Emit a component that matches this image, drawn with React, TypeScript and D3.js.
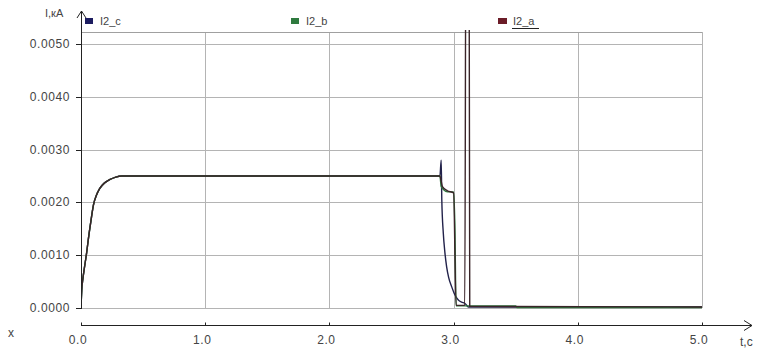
import { useEffect, useRef } from 'react'
import * as d3 from 'd3'

// readings (t in s, current in kA)
const xTicks = [0, 1, 2, 3, 4, 5]
const yTicks = [0, 0.001, 0.002, 0.003, 0.004, 0.005]

const tC = [0, 0.006, 0.015, 0.03, 0.045, 0.06, 0.08, 0.1, 0.125, 0.15, 0.19, 0.23, 0.28, 0.33, 0.5, 2.89, 2.9, 2.905, 2.917, 2.93, 2.944, 2.96, 2.985, 3.01, 3.038, 3.065, 3.09, 3.12, 5.0]
const iC = [0, 0.00034, 0.00055, 0.0008, 0.00104, 0.00132, 0.00165, 0.00195, 0.00214, 0.00226, 0.00237, 0.00243, 0.00248, 0.0025, 0.0025, 0.0025, 0.0028, 0.00205, 0.00142, 0.00105, 0.00078, 0.00058, 0.0004, 0.00025, 0.00015, 0.00011, 0.00009, 0.00002, 0.00002]

const tB = [0, 0.006, 0.015, 0.03, 0.045, 0.06, 0.08, 0.1, 0.125, 0.15, 0.19, 0.23, 0.28, 0.33, 0.5, 2.89, 2.9, 2.92, 2.95, 3.0, 3.01, 3.02, 3.03, 3.5, 3.51, 5.0]
const iB = [0, 0.00034, 0.00055, 0.0008, 0.00104, 0.00132, 0.00165, 0.00195, 0.00214, 0.00226, 0.00237, 0.00243, 0.00248, 0.0025, 0.0025, 0.0025, 0.0023, 0.00224, 0.0022, 0.0022, 0.0016, 0.00004, 0.00004, 0.00004, 0.00001, 0.00001]

const tA = [0, 0.006, 0.015, 0.03, 0.045, 0.06, 0.08, 0.1, 0.125, 0.15, 0.19, 0.23, 0.28, 0.33, 0.5, 2.89, 2.9, 2.91, 2.95, 3.0, 3.02, 3.09, 3.1, 3.124, 3.13, 5.0]
const iA = [0, 0.00034, 0.00055, 0.0008, 0.00104, 0.00132, 0.00165, 0.00195, 0.00214, 0.00226, 0.00237, 0.00243, 0.00248, 0.0025, 0.0025, 0.0025, 0.0024, 0.0023, 0.00222, 0.00218, 0.00005, 0.00005, 0.008, 0.008, 0.00003, 0.00002]

const seriesNames = ['I2_c', 'I2_b', 'I2_a']
const seriesColors = ['#22224a', '#2f7a3f', '#3a2428']
const legendColors = ['#1c1c60', '#2f7a3f', '#6b1c28']

export default function App() {
  const svgRef = useRef<SVGSVGElement>(null)

  useEffect(() => {
    if (!svgRef.current) return
    const svg = d3.select(svgRef.current)
    svg.selectAll('*').remove()

    const x = d3.scaleLinear().domain([0, 5]).range([81, 702])
    const y = d3.scaleLinear().domain([0, 0.005]).range([308, 44])
    const yTop = 32
    const font = '"Liberation Sans", Arial, sans-serif'

    svg.append('rect').attr('width', 758).attr('height', 350).attr('fill', '#fff')

    // grid
    const grid = svg.append('g').attr('stroke', '#b4b4b4').attr('stroke-width', 1)
    yTicks.forEach(v => {
      grid.append('line')
        .attr('x1', x(0)).attr('x2', x(5))
        .attr('y1', Math.round(y(v)) + 0.5).attr('y2', Math.round(y(v)) + 0.5)
    })
    xTicks.slice(1).forEach(t => {
      grid.append('line')
        .attr('x1', Math.round(x(t)) + 0.5).attr('x2', Math.round(x(t)) + 0.5)
        .attr('y1', yTop).attr('y2', y(0))
    })
    grid.append('line')
      .attr('x1', x(0)).attr('x2', x(5))
      .attr('y1', yTop + 0.5).attr('y2', yTop + 0.5)
      .attr('stroke', '#a0a0a0')

    // curves
    svg.append('clipPath').attr('id', 'plotclip')
      .append('rect').attr('x', x(0)).attr('y', yTop - 2)
      .attr('width', x(5) - x(0) + 2).attr('height', y(0) - yTop + 4)

    const line = d3.line<[number, number]>()
      .x(d => x(d[0])).y(d => y(d[1]))
      .curve(d3.curveMonotoneX)
    const series: [number[], number[]][] = [[tC, iC], [tB, iB], [tA, iA]]
    const plot = svg.append('g').attr('clip-path', 'url(#plotclip)')
    series.forEach(([ts, vs], k) => {
      const pts = ts.map((t, i) => [t, vs[i]] as [number, number])
      plot.append('path')
        .attr('d', line(pts))
        .attr('fill', 'none')
        .attr('stroke', seriesColors[k])
        .attr('stroke-width', 1.4)
        .attr('stroke-linejoin', 'round')
    })

    // y axis with arrow
    const ax = svg.append('g').attr('stroke', '#222').attr('fill', 'none').attr('stroke-width', 1)
    ax.append('line').attr('x1', 81.5).attr('x2', 81.5).attr('y1', 11).attr('y2', y(0) + 1)
    ax.append('path').attr('d', 'M77,18 L81.5,11 L86,18')
    yTicks.forEach(v => {
      ax.append('line').attr('x1', 76).attr('x2', 81)
        .attr('y1', Math.round(y(v)) + 0.5).attr('y2', Math.round(y(v)) + 0.5)
    })

    // x axis with arrow
    const xAxisY = 325.5
    ax.append('line').attr('x1', x(0)).attr('x2', 752).attr('y1', xAxisY).attr('y2', xAxisY)
    ax.append('path').attr('d', `M744,${xAxisY - 5} L752,${xAxisY} L744,${xAxisY + 5}`)
    xTicks.forEach(t => {
      ax.append('line')
        .attr('x1', Math.round(x(t)) + 0.5).attr('x2', Math.round(x(t)) + 0.5)
        .attr('y1', xAxisY - 3).attr('y2', xAxisY)
    })

    const txt = svg.append('g')
      .style('font-family', font).style('font-size', '12px').attr('fill', '#444')

    yTicks.forEach(v => {
      txt.append('text')
        .attr('x', 70).attr('y', y(v) + 4)
        .attr('text-anchor', 'end')
        .style('letter-spacing', '0.6px')
        .text(v.toFixed(4))
    })
    xTicks.forEach(t => {
      txt.append('text')
        .attr('x', x(t) - 3).attr('y', 344)
        .attr('text-anchor', 'middle')
        .style('letter-spacing', '0.6px')
        .text(t.toFixed(1))
    })
    txt.append('text').attr('x', 8).attr('y', 337).text('x')
    txt.append('text').attr('x', 740).attr('y', 346).text('t,c')
    txt.append('text').attr('x', 45).attr('y', 17).style('font-size', '11px').text('I,кА')

    // legend
    const legendX = [85, 291, 498]
    seriesNames.forEach((name, k) => {
      svg.append('rect')
        .attr('x', legendX[k]).attr('y', 18).attr('width', k === 2 ? 9 : 8).attr('height', 6)
        .attr('fill', legendColors[k])
      txt.append('text')
        .attr('x', legendX[k] + 15).attr('y', 25)
        .style('font-size', '11px')
        .text(name)
    })
    svg.append('line')
      .attr('x1', 512).attr('x2', 539).attr('y1', 28.5).attr('y2', 28.5)
      .attr('stroke', '#222').attr('stroke-width', 1)
  }, [])

  return (
    <svg
      ref={svgRef}
      width={758}
      height={350}
      style={{ position: 'absolute', left: 0, top: 0 }}
    />
  )
}
